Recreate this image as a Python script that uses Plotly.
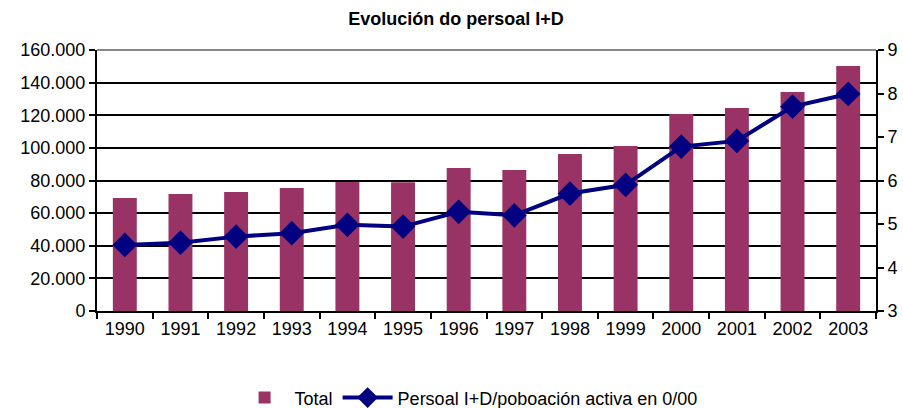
import plotly.graph_objects as go

years = ["1990", "1991", "1992", "1993", "1994", "1995", "1996", "1997",
         "1998", "1999", "2000", "2001", "2002", "2003"]
total = [69300, 71700, 72900, 75400, 79100, 79000, 87700, 86400,
         96200, 101200, 120800, 124400, 134300, 150200]
ratio = [4.52, 4.57, 4.71, 4.79, 4.98, 4.94, 5.28, 5.20,
         5.70, 5.90, 6.78, 6.91, 7.70, 7.99]

left_ticks = [0, 20000, 40000, 60000, 80000, 100000, 120000, 140000, 160000]
right_ticks = [3, 4, 5, 6, 7, 8, 9]

fig = go.Figure()
fig.add_trace(go.Bar(
    x=years, y=total, name="Total",
    marker=dict(color="#993366", line=dict(width=0)),
))
fig.add_trace(go.Scatter(
    x=years, y=ratio, name="Persoal I+D/poboación activa en 0/00",
    yaxis="y2", mode="lines+markers",
    line=dict(color="#000080", width=4),
    marker=dict(symbol="diamond", size=19, color="#000080"),
))

fig.update_layout(
    width=903, height=408,
    margin=dict(l=97, r=27, t=50, b=97, autoexpand=False),
    paper_bgcolor="white", plot_bgcolor="white",
    separators=",.",
    font=dict(family="Liberation Sans, Arial, sans-serif", size=18, color="black"),
    title=dict(text="<b>Evolución do persoal I+D</b>", x=0.505, xanchor="center",
               y=0.955, yanchor="middle", font=dict(size=18)),
    bargap=0.57,
    showlegend=True,
    legend=dict(orientation="h", x=0.477, xanchor="center", y=-0.333, yanchor="middle",
                font=dict(size=18), itemwidth=50, traceorder="normal",
                tracegroupgap=0),
    xaxis=dict(
        type="category", range=[-0.5, 13.5], automargin=False,
        showline=True, linecolor="black", linewidth=2,
        ticks="outside", tickson="boundaries", ticklen=6, tickcolor="black",
        tickwidth=2, showgrid=False, tickfont=dict(size=18),
    ),
    yaxis=dict(
        range=[0, 160000], tickvals=left_ticks, tickformat=",d", automargin=False,
        showline=True, linecolor="black", linewidth=2,
        ticks="outside", ticklen=6, tickcolor="black", tickwidth=2,
        showgrid=True, gridcolor="black", gridwidth=1.5, zeroline=False,
        tickfont=dict(size=18),
    ),
    yaxis2=dict(
        range=[3, 9], tickvals=right_ticks, overlaying="y", side="right",
        automargin=False,
        showline=True, linecolor="black", linewidth=2,
        ticks="outside", ticklen=6, tickcolor="black", tickwidth=2,
        showgrid=False, zeroline=False, tickfont=dict(size=18),
    ),
    yaxis3=dict(
        range=[3, 9], tickvals=right_ticks, overlaying="y", side="right",
        anchor="x", automargin=False, showticklabels=False,
        showline=False, ticks="inside", ticklen=5, tickcolor="black", tickwidth=2,
        showgrid=False, zeroline=False,
    ),
)
fig.add_shape(type="line", xref="paper", yref="paper", x0=0, x1=1, y0=1, y1=1,
              line=dict(color="#888888", width=2))

fig.write_html("out.html", config={"displayModeBar": False},
               post_script="document.body.style.margin='0';document.body.style.overflow='hidden';")
